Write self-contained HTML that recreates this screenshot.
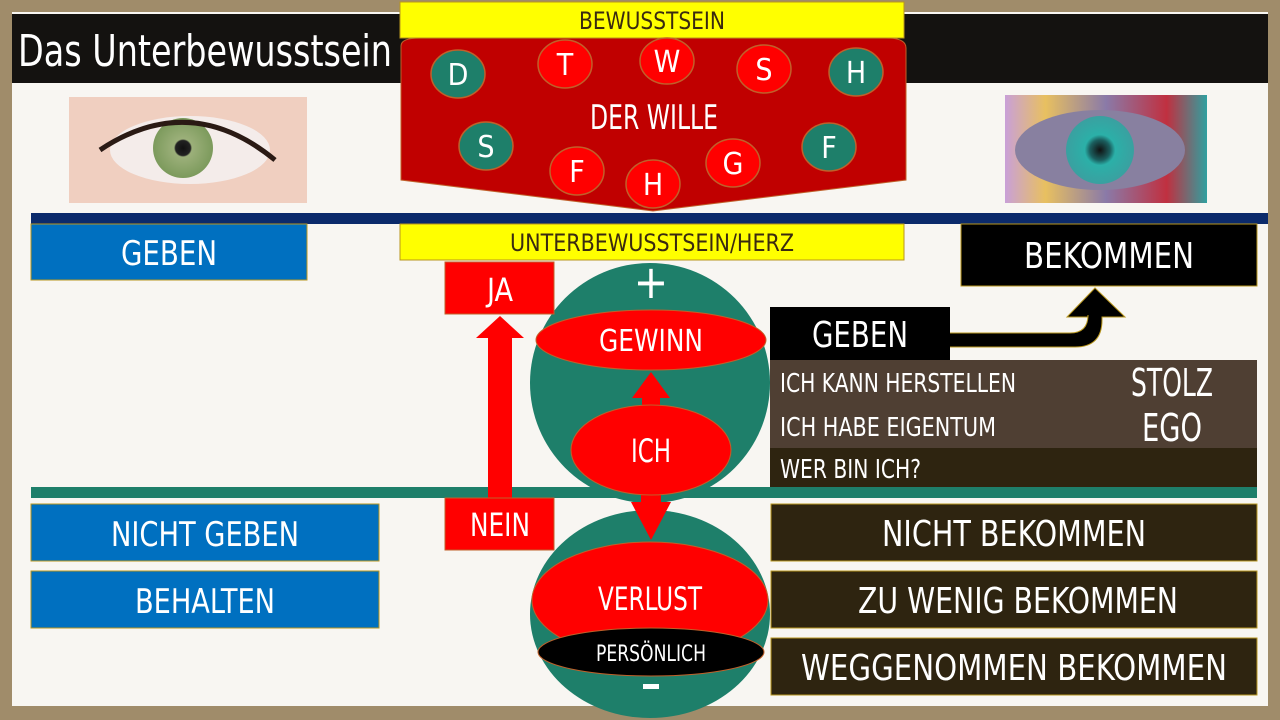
<!DOCTYPE html>
<html><head><meta charset="utf-8"><style>
html,body{margin:0;padding:0;background:#a08c6a;}
svg{display:block;}
text{font-family:"Liberation Sans Narrow","DejaVu Sans Condensed","Liberation Sans",sans-serif;}
</style></head><body>
<svg width="1280" height="720" viewBox="0 0 1280 720" xmlns="http://www.w3.org/2000/svg">
<defs>
<radialGradient id="eye1" cx="0.5" cy="0.5" r="0.5">
<stop offset="0" stop-color="#111"/><stop offset="0.25" stop-color="#222"/><stop offset="0.3" stop-color="#9cb07a"/><stop offset="1" stop-color="#7c9a5c"/>
</radialGradient>
<radialGradient id="eye2" cx="0.5" cy="0.5" r="0.5">
<stop offset="0" stop-color="#111"/><stop offset="0.3" stop-color="#1b5f5f"/><stop offset="0.45" stop-color="#2bb0a8"/><stop offset="1" stop-color="#3aa0a0"/>
</radialGradient>
<linearGradient id="rainbow" x1="0" y1="0" x2="1" y2="0">
<stop offset="0" stop-color="#c9a0d8"/><stop offset="0.2" stop-color="#e8c060"/><stop offset="0.5" stop-color="#8a7aa8"/><stop offset="0.8" stop-color="#c03040"/><stop offset="1" stop-color="#30a0a0"/>
</linearGradient>
</defs>
<rect x="0" y="0" width="1280" height="720" fill="#a08c6a"/>
<rect x="12" y="12" width="1256" height="694" fill="#f8f6f2"/>
<!-- title bar -->
<rect x="12" y="14" width="1256" height="69" fill="#141210"/>
<text x="18" y="66" font-size="44" fill="#fff" textLength="374" lengthAdjust="spacingAndGlyphs">Das Unterbewusstsein</text>
<!-- left eye -->
<rect x="69" y="97" width="238" height="106" fill="#f0cfc0"/>
<ellipse cx="190" cy="150" rx="80" ry="34" fill="#f4ecea"/>
<circle cx="183" cy="148" r="30" fill="url(#eye1)"/>
<path d="M100 150 Q190 90 275 160" stroke="#2a1a14" stroke-width="5" fill="none"/>
<!-- right eye -->
<rect x="1005" y="95" width="202" height="108" fill="url(#rainbow)"/>
<ellipse cx="1100" cy="150" rx="85" ry="40" fill="#8880a0"/>
<circle cx="1100" cy="150" r="34" fill="url(#eye2)"/>
<!-- navy line -->
<rect x="31" y="213" width="1237" height="11" fill="#0b2a6b"/>
<!-- red will shape -->
<path d="M401 46 Q401 38 420 38 L886 38 Q906 38 906 48 L906 180 L653 211 L401 180 Z" fill="#c00000" stroke="#c0602a" stroke-width="1"/>
<rect x="400" y="2" width="504" height="36" fill="#ffff00" stroke="#b8961e"/>
<text x="652" y="29" font-size="24" fill="#3a2a10" text-anchor="middle" textLength="146" lengthAdjust="spacingAndGlyphs">BEWUSSTSEIN</text>
<text x="654" y="129" font-size="34" fill="#fff" text-anchor="middle" textLength="128" lengthAdjust="spacingAndGlyphs">DER WILLE</text>
<g font-size="30" fill="#fff" text-anchor="middle" stroke-width="1.5">
<ellipse cx="458" cy="74" rx="27" ry="24" fill="#1e7f6a" stroke="#c0602a"/><text x="458" y="85" fill="#fff">D</text>
<ellipse cx="565" cy="64" rx="27" ry="24" fill="#ff0000" stroke="#c0602a"/><text x="565" y="75" fill="#fff">T</text>
<ellipse cx="667" cy="61" rx="27" ry="23" fill="#ff0000" stroke="#c0602a"/><text x="667" y="72" fill="#fff">W</text>
<ellipse cx="764" cy="69" rx="27" ry="24" fill="#ff0000" stroke="#c0602a"/><text x="764" y="80" fill="#fff">S</text>
<ellipse cx="856" cy="72" rx="27" ry="24" fill="#1e7f6a" stroke="#c0602a"/><text x="856" y="83" fill="#fff">H</text>
<ellipse cx="486" cy="146" rx="27" ry="24" fill="#1e7f6a" stroke="#c0602a"/><text x="486" y="157" fill="#fff">S</text>
<ellipse cx="577" cy="171" rx="27" ry="24" fill="#ff0000" stroke="#c0602a"/><text x="577" y="182" fill="#fff">F</text>
<ellipse cx="653" cy="184" rx="27" ry="24" fill="#ff0000" stroke="#c0602a"/><text x="653" y="195" fill="#fff">H</text>
<ellipse cx="733" cy="163" rx="27" ry="24" fill="#ff0000" stroke="#c0602a"/><text x="733" y="174" fill="#fff">G</text>
<ellipse cx="829" cy="147" rx="27" ry="24" fill="#1e7f6a" stroke="#c0602a"/><text x="829" y="158" fill="#fff">F</text>
</g>
<!-- UNTERBEWUSSTSEIN -->
<rect x="400" y="224" width="504" height="36" fill="#ffff00" stroke="#b8961e"/>
<text x="652" y="251" font-size="24" fill="#3a2a10" text-anchor="middle" textLength="284" lengthAdjust="spacingAndGlyphs">UNTERBEWUSSTSEIN/HERZ</text>
<!-- left blue boxes -->
<rect x="31" y="224" width="276" height="56" fill="#0070c0" stroke="#b8961e"/>
<text x="169" y="265" font-size="34" fill="#fff" text-anchor="middle" textLength="96" lengthAdjust="spacingAndGlyphs">GEBEN</text>
<rect x="31" y="504" width="348" height="57" fill="#0070c0" stroke="#b8961e"/>
<text x="205" y="546" font-size="34" fill="#fff" text-anchor="middle" textLength="188" lengthAdjust="spacingAndGlyphs">NICHT GEBEN</text>
<rect x="31" y="571" width="348" height="57" fill="#0070c0" stroke="#b8961e"/>
<text x="205" y="613" font-size="34" fill="#fff" text-anchor="middle" textLength="140" lengthAdjust="spacingAndGlyphs">BEHALTEN</text>
<!-- green line -->
<rect x="31" y="487" width="1226" height="11" fill="#1e7f6a"/>
<!-- BEKOMMEN -->
<rect x="961" y="224" width="296" height="62" fill="#000" stroke="#b8961e"/>
<text x="1109" y="268" font-size="36" fill="#fff" text-anchor="middle" textLength="170" lengthAdjust="spacingAndGlyphs">BEKOMMEN</text>
<!-- black bent arrow -->
<path d="M948 333 L1070 333 Q1088 333 1088 315 L1088 317 L1067 317 L1095 288 L1125 317 L1102 317 L1102 320 Q1102 347 1075 347 L948 347 Z" fill="#000" stroke="#b8961e" stroke-width="1"/>
<!-- brown boxes -->
<rect x="770" y="360" width="487" height="88" fill="#4f3f33"/>
<rect x="770" y="448" width="487" height="39" fill="#2e2410"/>
<text x="780" y="392" font-size="26" fill="#fff" textLength="236" lengthAdjust="spacingAndGlyphs">ICH KANN HERSTELLEN</text>
<text x="780" y="436" font-size="26" fill="#fff" textLength="216" lengthAdjust="spacingAndGlyphs">ICH HABE EIGENTUM</text>
<text x="780" y="478" font-size="26" fill="#fff" textLength="141" lengthAdjust="spacingAndGlyphs">WER BIN ICH?</text>
<text x="1172" y="396" font-size="38" fill="#fff" text-anchor="middle" textLength="82" lengthAdjust="spacingAndGlyphs">STOLZ</text>
<text x="1172" y="441" font-size="38" fill="#fff" text-anchor="middle" textLength="60" lengthAdjust="spacingAndGlyphs">EGO</text>
<rect x="770" y="307" width="180" height="53" fill="#000"/>
<text x="860" y="347" font-size="36" fill="#fff" text-anchor="middle" textLength="96" lengthAdjust="spacingAndGlyphs">GEBEN</text>
<!-- right dark boxes -->
<g fill="#2e2410" stroke="#b8961e">
<rect x="771" y="504" width="486" height="57"/>
<rect x="771" y="571" width="486" height="57"/>
<rect x="771" y="638" width="486" height="57"/>
</g>
<text x="1014" y="546" font-size="36" fill="#fff" text-anchor="middle" textLength="264" lengthAdjust="spacingAndGlyphs">NICHT BEKOMMEN</text>
<text x="1018" y="613" font-size="36" fill="#fff" text-anchor="middle" textLength="320" lengthAdjust="spacingAndGlyphs">ZU WENIG BEKOMMEN</text>
<text x="1014" y="680" font-size="36" fill="#fff" text-anchor="middle" textLength="426" lengthAdjust="spacingAndGlyphs">WEGGENOMMEN BEKOMMEN</text>
<!-- top green circle -->
<circle cx="650" cy="383" r="120" fill="#1e7f6a"/>
<text x="651" y="298" font-size="46" fill="#fff" text-anchor="middle">+</text>
<ellipse cx="651" cy="340" rx="115" ry="30" fill="#ff0000" stroke="#c0602a"/>
<text x="651" y="351" font-size="30" fill="#fff" text-anchor="middle" textLength="104" lengthAdjust="spacingAndGlyphs">GEWINN</text>
<!-- bottom green circle -->
<ellipse cx="650" cy="614" rx="120" ry="104" fill="#1e7f6a"/>
<ellipse cx="650" cy="600" rx="118" ry="58" fill="#ff0000" stroke="#c0602a"/>
<text x="650" y="610" font-size="32" fill="#fff" text-anchor="middle" textLength="104" lengthAdjust="spacingAndGlyphs">VERLUST</text>
<ellipse cx="651" cy="652" rx="113" ry="24" fill="#000" stroke="#c0602a"/>
<text x="651" y="661" font-size="22" fill="#fff" text-anchor="middle" textLength="110" lengthAdjust="spacingAndGlyphs">PERSÖNLICH</text>
<rect x="643" y="684" width="16" height="5" fill="#fff"/>
<!-- ICH arrows -->
<rect x="642" y="395" width="18" height="20" fill="#ff0000"/>
<polygon points="632,398 670,398 651,372" fill="#ff0000"/>
<rect x="641" y="490" width="20" height="15" fill="#ff0000"/>
<polygon points="631,502 671,502 651,540" fill="#ff0000"/>
<ellipse cx="651" cy="450" rx="80" ry="45" fill="#ff0000" stroke="#c0602a"/>
<text x="651" y="462" font-size="32" fill="#fff" text-anchor="middle" textLength="40" lengthAdjust="spacingAndGlyphs">ICH</text>
<!-- JA / NEIN -->
<rect x="488" y="336" width="24" height="164" fill="#ff0000"/>
<polygon points="476,338 524,338 500,316" fill="#ff0000"/>
<rect x="445" y="262" width="109" height="52" fill="#ff0000" stroke="#c0602a"/>
<text x="500" y="301" font-size="32" fill="#fff" text-anchor="middle" textLength="26" lengthAdjust="spacingAndGlyphs">JA</text>
<rect x="445" y="498" width="109" height="52" fill="#ff0000" stroke="#c0602a"/>
<text x="500" y="536" font-size="32" fill="#fff" text-anchor="middle" textLength="60" lengthAdjust="spacingAndGlyphs">NEIN</text>
</svg>
</body></html>
